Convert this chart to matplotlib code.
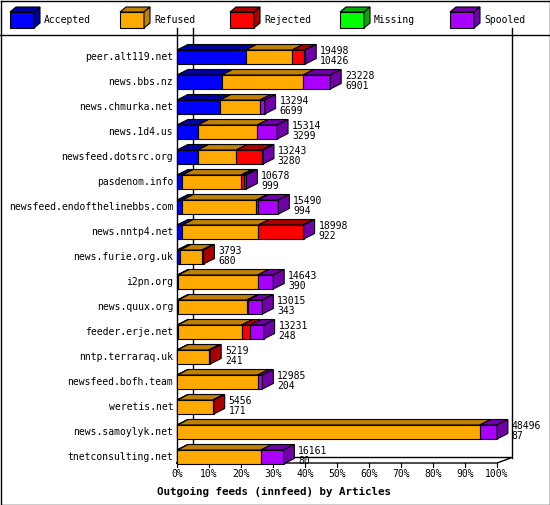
import matplotlib
matplotlib.use("Agg")
import matplotlib.pyplot as plt
import numpy as np

hosts = ["peer.alt119.net", "news.bbs.nz", "news.chmurka.net", "news.1d4.us",
         "newsfeed.dotsrc.org", "pasdenom.info", "newsfeed.endofthelinebbs.com",
         "news.nntp4.net", "news.furie.org.uk", "i2pn.org", "news.quux.org",
         "feeder.erje.net", "nntp.terraraq.uk", "newsfeed.bofh.team", "weretis.net",
         "news.samoylyk.net", "tnetconsulting.net"]
totals = [19498, 23228, 13294, 15314, 13243, 10678, 15490, 18998, 3793, 14643,
          13015, 13231, 5219, 12985, 5456, 48496, 16161]
accepted_n = [10426, 6901, 6699, 3299, 3280, 999, 994, 922, 680, 390, 343, 248,
              241, 204, 171, 87, 80]

# segment widths in percent
accepted = [21.5, 14.0, 13.5, 6.5, 6.5, 1.7, 1.7, 1.7, 1.0, 0.4, 0.4, 0.2, 0.1, 0.1, 0.1, 0.1, 0.1]
refused = [14.5, 25.4, 12.4, 18.6, 12.0, 18.3, 23.1, 23.7, 6.8, 24.8, 21.4, 20.0, 9.8, 25.1, 11.1, 94.5, 26.1]
rejected = [3.8, 0.0, 0.0, 0.0, 8.0, 0.8, 0.5, 13.9, 0.5, 0.0, 0.5, 2.7, 0.5, 0.0, 0.3, 0.0, 0.0]
missing = [0.0] * 17
spooled = [0.3, 8.5, 1.5, 6.2, 0.4, 0.9, 6.4, 0.3, 0.0, 4.9, 4.4, 4.2, 0.0, 1.5, 0.0, 5.4, 7.1]

cats = ["Accepted", "Refused", "Rejected", "Missing", "Spooled"]
front = ["#0000ff", "#ffaa00", "#ff0000", "#00ff00", "#aa00ff"]
side = ["#0000a0", "#c08000", "#aa0000", "#00aa00", "#7000a8"]

W, H = 550, 505
fig = plt.figure(figsize=(W / 100, H / 100), dpi=100)
mono = "DejaVu Sans Mono"
fs = 7.0

# outer frame and legend strip
frame = fig.add_axes([0, 0, 1, 1])
frame.set_xlim(0, W)
frame.set_ylim(H, 0)
frame.axis("off")
frame.plot([0.5, W - 0.5, W - 0.5, 0.5, 0.5], [0.5, 0.5, H - 0.5, H - 0.5, 0.5], color="black", lw=1)
frame.plot([0, W], [35, 35], color="black", lw=1)
for i, c in enumerate(cats):
    x0 = 10 + i * 110
    frame.fill([x0, x0 + 24, x0 + 24, x0], [28, 28, 12, 12], color=front[i], ec="black", lw=0.8)
    frame.fill([x0, x0 + 6, x0 + 30, x0 + 24], [12, 7, 7, 12], color=side[i], ec="black", lw=0.8)
    frame.fill([x0 + 24, x0 + 30, x0 + 30, x0 + 24], [12, 7, 23, 28], color=side[i], ec="black", lw=0.8)
    frame.text(x0 + 34, 20, c, fontsize=fs, family=mono, va="center")

# main plot, 0% at px 177, 100% at px 497, rows every 25 px from 57
top_px, bot_px = 40, 465
ax = fig.add_axes([177 / W, 1 - bot_px / H, 320 / W, (bot_px - top_px) / H])
ax.set_xlim(0, 100)
ax.set_ylim((bot_px - 57) / 25, (top_px - 57) / 25)
ax.axis("off")

dx, dy, h = 3.4, -0.22, 0.28
floor = (463 - 57) / 25
ytop = ax.get_ylim()[1] - 0.5

# back wall, right wall and floor (behind the bars)
ax.plot([5, 5], [ytop, floor + dy], color="black", lw=1, clip_on=False, zorder=0)
ax.plot([104.7, 104.7], [ytop, floor + dy], color="black", lw=1, clip_on=False, zorder=0)
ax.plot([0, 0], [ytop, floor], color="black", lw=1, clip_on=False, zorder=0)
ax.plot([0, 100, 104.7, 5, 0], [floor, floor, floor + dy, floor + dy, floor], color="black",
        lw=1, clip_on=False, zorder=0)
for t in range(0, 101, 10):
    ax.plot([t, t], [floor, floor + 0.15], color="black", lw=0.8, clip_on=False)
    ax.text(t, floor + 0.25, f"{t}%", fontsize=fs, family=mono, ha="center", va="top")

segs = np.array([accepted, refused, rejected, missing, spooled])
for r in range(len(hosts)):
    left = 0.0
    last = 0
    for k in range(5):
        w = segs[k, r]
        if w <= 0:
            continue
        x1, x2 = left, left + w
        ax.fill([x1, x2, x2, x1], [r + h, r + h, r - h, r - h], color=front[k], ec="black",
                lw=0.8, clip_on=False, zorder=2)
        ax.fill([x1, x1 + dx, x2 + dx, x2], [r - h, r - h + dy, r - h + dy, r - h], color=side[k],
                ec="black", lw=0.8, clip_on=False, zorder=2)
        left = x2
        last = k
    ax.fill([left, left + dx, left + dx, left], [r - h, r - h + dy, r + h + dy, r + h],
            color=side[last], ec="black", lw=0.8, clip_on=False, zorder=2)
    ax.text(left + dx + 1.2, r - 0.05, f"{totals[r]}\n{accepted_n[r]}", fontsize=fs,
            family=mono, va="center", linespacing=0.95, zorder=3)
    ax.text(-1.2, r, hosts[r], fontsize=fs, family=mono, ha="right", va="center")

fig.text(274 / W, 1 - 492 / H, "Outgoing feeds (innfeed) by Articles", fontsize=7.8,
         family=mono, weight="bold", ha="center", va="center")

fig.savefig("out.png", dpi=100)
